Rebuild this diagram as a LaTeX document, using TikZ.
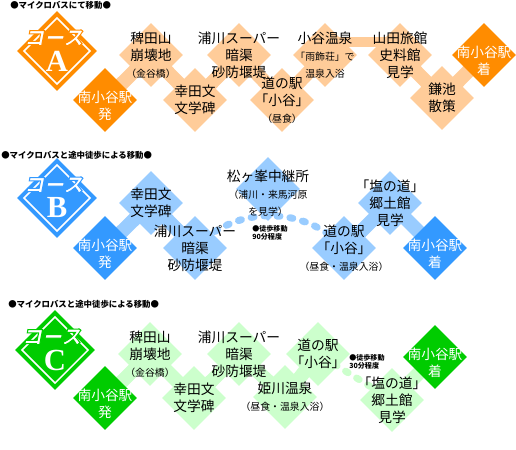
\documentclass[tikz,border=0pt]{standalone}
\usepackage{fontspec}
\newfontfamily\jp{Noto Sans CJK JP}
\newfontfamily\lat{Liberation Serif}
\usepackage{tikz}
\usetikzlibrary{shapes.geometric,backgrounds}
\usepackage{xcolor}
\definecolor{kcorange}{RGB}{255,140,0}
\definecolor{kclightorange}{RGB}{255,204,153}
\definecolor{kcblue}{RGB}{51,153,255}
\definecolor{kclightblue}{RGB}{153,204,255}
\definecolor{kcgreen}{RGB}{0,204,0}
\definecolor{kclightgreen}{RGB}{204,255,204}
\newcommand{\sm}[1]{{\fontsize{7.4}{9.2}\selectfont #1}}
% white glyphs with a coloured rim (stroke colour given as r g b)
\newcommand{\rimtext}[2]{\special{pdf:literal direct 2 Tr 0.8 w #1 RG}#2\special{pdf:literal direct 0 Tr}}
\tikzstyle{stop} = [diamond, minimum width=48pt, minimum height=48pt, inner sep=0pt]
\tikzstyle{lbl} = [align=center, inner sep=0pt, font=\jp\fontsize{10.3}{12.7}\selectfont]
\tikzstyle{lblw} = [lbl, text=white, yshift=-4.5pt]
\tikzstyle{badge} = [diamond, minimum width=60pt, minimum height=60pt, inner sep=0pt]
\tikzstyle{badgeline} = [diamond, minimum width=50pt, minimum height=50pt, inner sep=0pt, draw=white, line width=1.1pt]
\tikzstyle{coursename} = [inner sep=0pt, xslant=0.2, text=white, font=\jp\bfseries\fontsize{15}{15}\selectfont]
\tikzstyle{courseletter} = [inner sep=0pt, text=white, font=\lat\bfseries\fontsize{23}{23}\selectfont]
\tikzstyle{title} = [anchor=west, inner sep=0pt, font=\jp\bfseries\fontsize{6.3}{7}\selectfont]
\tikzstyle{walknote} = [anchor=west, align=left, inner sep=0pt, font=\jp\bfseries\fontsize{5.3}{6.4}\selectfont]
\tikzstyle{bar} = [line width=10.5pt]
\tikzstyle{walk} = [line width=5.25pt, line cap=round, dash pattern=on 2.25pt off 7.5pt]
% course badge: name, position, colour, letter, rim colour
\newcommand{\coursebadge}[5]{%
  \node[badge, fill=#3] (#1) at #2 {};
  \node[badgeline] (#1line) at (#1) {};
  \node[coursename] (#1name) at ([yshift=9.75pt, xshift=-1.5pt]#1.center) {\rimtext{#5}{コース}};
  \node[courseletter] (#1letter) at ([yshift=-7.5pt]#1.center) {#4};
}
\begin{document}
\begin{tikzpicture}[x=0.75pt, y=-0.75pt]
\useasboundingbox (0,0) rectangle (516,449);
% Course A
\node[title] (ta) at (10,5) {●マイクロバスにて移動●};
\coursebadge{ka}{(57,51)}{kcorange}{A}{1 0.549 0}
\node[stop, fill=kcorange, label={[lblw]center:{南小谷駅\\発}}] (a0) at (105,100) {};
\node[stop, fill=kclightorange, label={[lbl]center:{稗田山\\崩壊地\\\sm{（金谷橋）}}}] (a1) at (151,55) {};
\node[stop, fill=kclightorange, label={[lbl]center:{幸田文\\文学碑}}] (a2) at (195,100) {};
\node[stop, fill=kclightorange, label={[lbl]center:{浦川スーパー\\暗渠\\砂防堰堤}}] (a3) at (239,55) {};
\node[stop, fill=kclightorange, label={[lbl]center:{道の駅\\「小谷」\\\sm{（昼食）}}}] (a4) at (282,100) {};
\node[stop, fill=kclightorange, label={[lbl]center:{小谷温泉\\\sm{「雨飾荘」で}\\\sm{温泉入浴}}}] (a5) at (325,55) {};
\node[stop, fill=kclightorange, label={[lbl]center:{山田旅館\\史料館\\見学}}] (a6) at (400,55) {};
\node[stop, fill=kclightorange, label={[lbl]center:{鎌池\\散策}}] (a7) at (442,98) {};
\node[stop, fill=kcorange, label={[lblw]center:{南小谷駅\\着}}] (a8) at (484,55) {};
% Course B
\node[title] (tb) at (1,155) {●マイクロバスと途中徒歩による移動●};
\coursebadge{kb}{(57,198)}{kcblue}{B}{0.2 0.6 1}
\node[stop, fill=kcblue, label={[lblw]center:{南小谷駅\\発}}] (b0) at (105,248) {};
\node[stop, fill=kclightblue, label={[lbl]center:{幸田文\\文学碑}}] (b1) at (151,203) {};
\node[stop, fill=kclightblue, label={[lbl]center:{浦川スーパー\\暗渠\\砂防堰堤}}] (b2) at (195,248) {};
\node[stop, fill=kclightblue, label={[lbl, yshift=-3pt]center:{松ヶ峯中継所\\\sm{（浦川・来馬河原}\\\sm{を見学）}}}] (b3) at (268,189) {};
\node[stop, fill=kclightblue, label={[lbl]center:{道の駅\\「小谷」\\\sm{（昼食・温泉入浴）}}}] (b4) at (344,248) {};
\node[stop, fill=kclightblue, label={[lbl]center:{「塩の道」\\郷土館\\見学}}] (b5) at (390,203) {};
\node[stop, fill=kcblue, label={[lblw]center:{南小谷駅\\着}}] (b6) at (435,248) {};
\node[walknote] (wb) at (252,233) {●徒歩移動\\90分程度};
% Course C
\node[title] (tc) at (8,304) {●マイクロバスと途中徒歩による移動●};
\coursebadge{kc}{(55,350)}{kcgreen}{C}{0 0.8 0}
\node[stop, fill=kcgreen, label={[lblw]center:{南小谷駅\\発}}] (c0) at (105,398) {};
\node[stop, fill=kclightgreen, label={[lbl]center:{稗田山\\崩壊地\\\sm{（金谷橋）}}}] (c1) at (150,354) {};
\node[stop, fill=kclightgreen, label={[lbl]center:{幸田文\\文学碑}}] (c2) at (194,398) {};
\node[stop, fill=kclightgreen, label={[lbl]center:{浦川スーパー\\暗渠\\砂防堰堤}}] (c3) at (239,354) {};
\node[stop, fill=kclightgreen, label={[lbl]center:{姫川温泉\\\sm{（昼食・温泉入浴）}}}] (c4) at (285,397) {};
\node[stop, fill=kclightgreen, label={[lbl]center:{道の駅\\「小谷」}}] (c5) at (318,354) {};
\node[stop, fill=kclightgreen, label={[lbl]center:{「塩の道」\\郷土館\\見学}}] (c6) at (392,400) {};
\node[stop, fill=kcgreen, label={[lblw]center:{南小谷駅\\着}}] (c7) at (435,357) {};
\node[walknote] (wc) at (349,362) {●徒歩移動\\30分程度};
% Routes
\begin{scope}[on background layer]
\draw[bar, kclightorange] (a0.center) -- (a1.center) -- (a2.center) -- (a3.center) -- (a4.center) -- (a5.center);
\draw[bar, kclightorange, line width=7.5pt] ([yshift=9.75pt]a5.center) -- ([yshift=9.75pt]a6.center);
\draw[bar, kclightorange] (a6.center) -- (a7.center) -- (a8.center);
\draw[bar, kclightblue] (b0.center) -- (b1.center) -- (b2.center);
\draw[walk, kclightblue] (b2.center) .. controls +(40,-43) and +(-39,-43) .. (b4.center);
\draw[bar, kclightblue] (b4.center) -- (b5.center) -- (b6.center);
\draw[bar, kclightgreen] (c0.center) -- (c1.center) -- (c2.center) -- (c3.center) -- (c4.center) -- (c5.center);
\draw[walk, kclightgreen, dash phase=4.9pt] (c5.center) -- (c6.center);
\draw[bar, kclightgreen] (c6.center) -- (c7.center);
\end{scope}
\end{tikzpicture}
\end{document}
